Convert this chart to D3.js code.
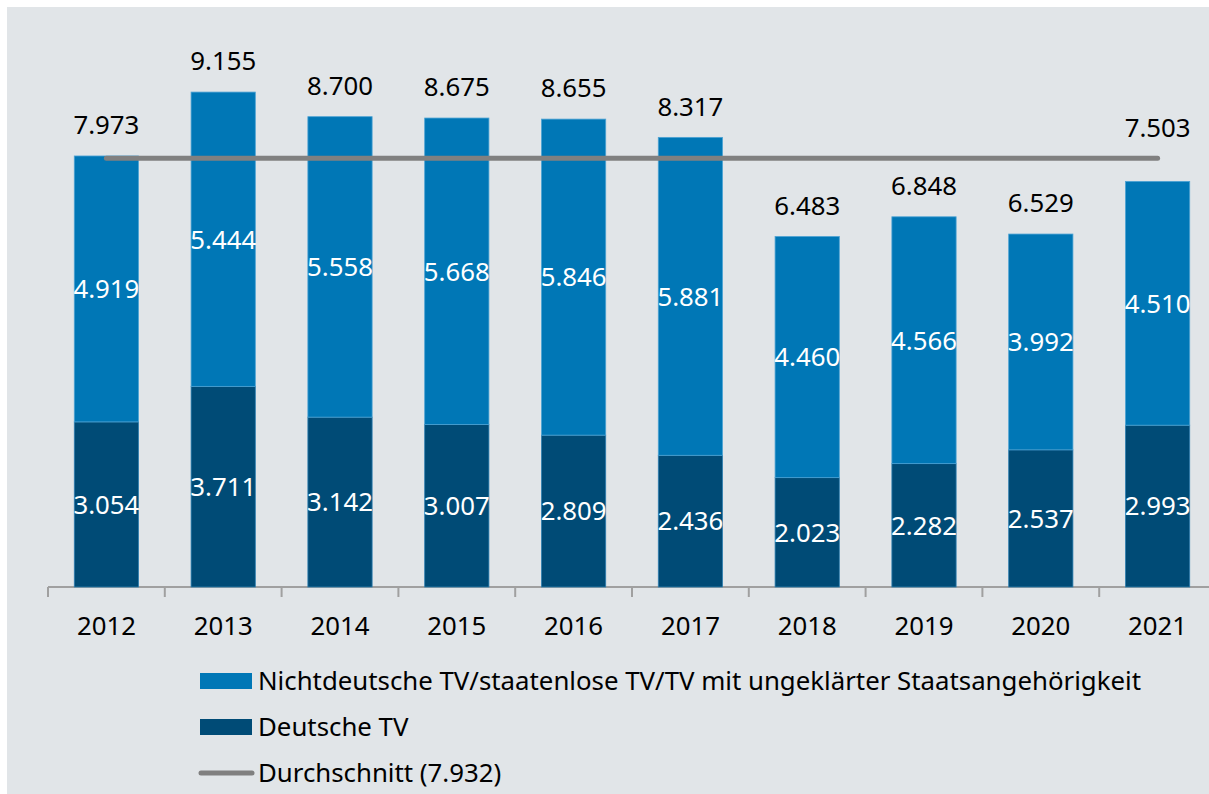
<!DOCTYPE html>
<html>
<head>
<meta charset="utf-8">
<script src="https://cdn.jsdelivr.net/npm/d3@7"></script>
<style>
  body { margin: 0; background: #fff; }
  svg { display: block; font-family: "Noto Sans", sans-serif; }
</style>
</head>
<body>
<div id="chart"></div>
<script>
const years = ['2012', '2013', '2014', '2015', '2016', '2017', '2018', '2019', '2020', '2021'];
const deutsche = [3054, 3711, 3142, 3007, 2809, 2436, 2023, 2282, 2537, 2993];
const nichtdeutsche = [4919, 5444, 5558, 5668, 5846, 5881, 4460, 4566, 3992, 4510];
const totals = [7973, 9155, 8700, 8675, 8655, 8317, 6483, 6848, 6529, 7503];
const average = 7932;
const legendLabels = [
    'Nichtdeutsche TV/staatenlose TV/TV mit ungeklärter Staatsangehörigkeit',
    'Deutsche TV',
    'Durchschnitt (7.932)'
];

const colorLight = '#0077b6';
const colorDark = '#004b76';
const colorAvg = '#808080';
const fontSize = '25.8px';

const fmt = v => d3.format(',')(v).replace(/,/g, '.');

function main() {
    const svgWidth = 1209;
    const svgHeight = 794;
    const baseY = 587;

    const svg = d3.select('#chart').append('svg')
        .attr('width', svgWidth)
        .attr('height', svgHeight);

    svg.append('rect')
        .attr('x', 7)
        .attr('y', 7)
        .attr('width', svgWidth - 7)
        .attr('height', svgHeight - 7)
        .attr('fill', '#e1e5e8');

    const data = years.map((y, i) => ({
        year: y, de: deutsche[i], nd: nichtdeutsche[i], total: totals[i]
    }));

    const xScale = d3.scaleBand()
        .domain(years)
        .range([48, 48 + 116.8 * years.length])
        .padding(0);

    const barW = xScale.bandwidth() * 0.55;

    const yScale = d3.scaleLinear()
        .domain([0, 10000])
        .range([baseY, baseY - 540.6]);

    // x axis
    const xAxis = svg.append('g')
        .attr('transform', `translate(0,${baseY})`);
    xAxis.append('line')
        .attr('x1', 48)
        .attr('x2', svgWidth)
        .attr('stroke', '#a0a0a0')
        .attr('stroke-width', 2);
    xAxis.selectAll('.tick-mark')
        .data(years)
        .enter()
        .append('line')
        .attr('class', 'tick-mark')
        .attr('x1', d => xScale(d))
        .attr('x2', d => xScale(d))
        .attr('y1', 0)
        .attr('y2', 10)
        .attr('stroke', '#a0a0a0')
        .attr('stroke-width', 2);
    xAxis.selectAll('.tick-label')
        .data(years)
        .enter()
        .append('text')
        .attr('class', 'tick-label')
        .attr('x', d => xScale(d) + xScale.bandwidth() / 2)
        .attr('y', 39)
        .attr('dy', '0.36em')
        .attr('text-anchor', 'middle')
        .attr('fill', '#000')
        .style('font-size', fontSize)
        .text(d => d);

    const bars = svg.append('g');
    const groups = bars.selectAll('.bar-group')
        .data(data)
        .enter()
        .append('g')
        .attr('class', 'bar-group')
        .attr('transform', d => `translate(${xScale(d.year) + xScale.bandwidth() / 2 - barW / 2},0)`);

    groups.append('rect')
        .attr('y', d => yScale(d.de))
        .attr('width', barW)
        .attr('height', d => baseY - yScale(d.de))
        .attr('fill', colorDark)
        .attr('stroke', '#2f7fb0')
        .attr('stroke-width', 0.8);

    groups.append('rect')
        .attr('y', d => yScale(d.de + d.nd))
        .attr('width', barW)
        .attr('height', d => yScale(d.de) - yScale(d.de + d.nd))
        .attr('fill', colorLight)
        .attr('stroke', '#4da3d4')
        .attr('stroke-width', 0.8);

    groups.append('text')
        .attr('x', barW / 2)
        .attr('y', d => (yScale(d.de) + baseY) / 2)
        .attr('dy', '0.36em')
        .attr('text-anchor', 'middle')
        .attr('fill', '#fff')
        .style('font-size', fontSize)
        .text(d => fmt(d.de));

    groups.append('text')
        .attr('x', barW / 2)
        .attr('y', d => (yScale(d.de) + yScale(d.de + d.nd)) / 2)
        .attr('dy', '0.36em')
        .attr('text-anchor', 'middle')
        .attr('fill', '#fff')
        .style('font-size', fontSize)
        .text(d => fmt(d.nd));

    // total labels, pushed above the average line when they would hit it
    const avgY = yScale(average);
    groups.append('text')
        .attr('x', barW / 2)
        .attr('y', d => {
            let cy = yScale(d.total) - 31;
            if (Math.abs(cy - avgY) < 20) cy = avgY - 30;
            return cy;
        })
        .attr('dy', '0.36em')
        .attr('text-anchor', 'middle')
        .attr('fill', '#000')
        .style('font-size', fontSize)
        .text(d => fmt(d.total));

    // average line
    svg.append('line')
        .attr('x1', xScale(years[0]) + xScale.bandwidth() / 2)
        .attr('x2', xScale(years[years.length - 1]) + xScale.bandwidth() / 2)
        .attr('y1', avgY)
        .attr('y2', avgY)
        .attr('stroke', colorAvg)
        .attr('stroke-width', 5)
        .attr('stroke-linecap', 'round');

    // legend
    const legend = svg.append('g').attr('transform', 'translate(200,0)');
    const rowY = [681, 727, 773];
    legend.append('rect')
        .attr('x', 0).attr('y', rowY[0] - 8)
        .attr('width', 52).attr('height', 16)
        .attr('fill', colorLight);
    legend.append('rect')
        .attr('x', 0).attr('y', rowY[1] - 8)
        .attr('width', 52).attr('height', 16)
        .attr('fill', colorDark);
    legend.append('line')
        .attr('x1', 1).attr('x2', 52)
        .attr('y1', rowY[2]).attr('y2', rowY[2])
        .attr('stroke', colorAvg)
        .attr('stroke-width', 5)
        .attr('stroke-linecap', 'round');

    legend.selectAll('.legend-label')
        .data(legendLabels)
        .enter()
        .append('text')
        .attr('class', 'legend-label')
        .attr('x', 58)
        .attr('y', (d, i) => rowY[i])
        .attr('dy', '0.36em')
        .attr('fill', '#000')
        .style('font-size', fontSize)
        .text(d => d);
}

main();
</script>
</body>
</html>
